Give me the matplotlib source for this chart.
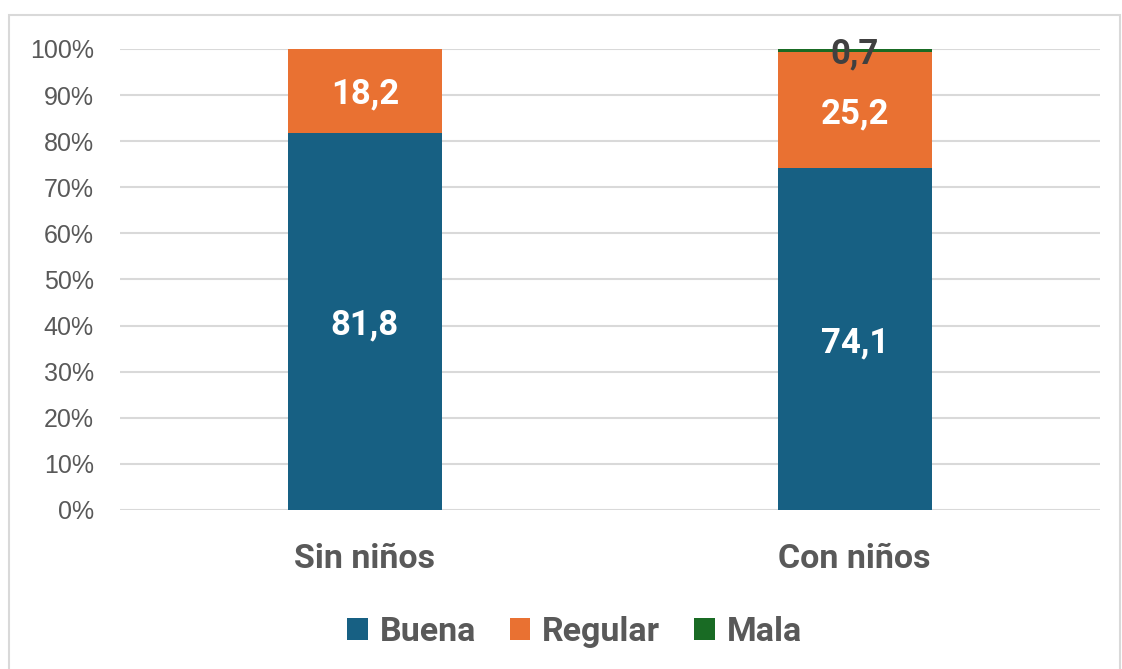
import numpy as np
import matplotlib.pyplot as plt
from matplotlib.patches import Rectangle

categories = ['Sin niños', 'Con niños']
buena = [81.8, 74.1]
regular = [18.2, 25.2]
mala = [0.0, 0.7]
series_names = ['Buena', 'Regular', 'Mala']
colors = ['#176083', '#e97132', '#196b24']
yticks = [0, 10, 20, 30, 40, 50, 60, 70, 80, 90, 100]

fig = plt.figure(figsize=(11.22, 6.69), dpi=100)
ax = fig.add_axes([0.107, 0.2377, 0.873, 0.6891])

# chart border
fig.patches.append(Rectangle((9 / 1122, -0.01), 1111 / 1122, 1 - 15 / 669 + 0.01,
                             transform=fig.transFigure, fill=False,
                             edgecolor='#d9d9d9', linewidth=1.5))

x = np.arange(len(categories))
w = 0.314
ax.bar(x, buena, w, color=colors[0], label=series_names[0], zorder=3)
ax.bar(x, regular, w, bottom=buena, color=colors[1], label=series_names[1], zorder=3)
bottom3 = np.array(buena) + np.array(regular)
ax.bar(x, mala, w, bottom=bottom3, color=colors[2], label=series_names[2], zorder=3)

lab = dict(family='Roboto', weight='bold', fontsize=25, ha='center', va='center_baseline', zorder=4)
for i in range(len(categories)):
    ax.text(x[i], buena[i] / 2, f'{buena[i]:.1f}'.replace('.', ','), color='white', **lab)
    ax.text(x[i], buena[i] + regular[i] / 2, f'{regular[i]:.1f}'.replace('.', ','), color='white', **lab)
    if mala[i] > 0:
        ax.text(x[i], bottom3[i] + mala[i] / 2, f'{mala[i]:.1f}'.replace('.', ','), color='#404040', **lab)

ax.set_xlim(-0.5, 1.5)
ax.set_ylim(0, 100)
ax.set_yticks(yticks)
ax.set_yticklabels([f'{t}%' for t in yticks], family='Liberation Sans', fontsize=18, color='#595959')
ax.set_xticks(x)
ax.set_xticklabels(categories, family='Roboto', weight='bold', fontsize=24.5, color='#595959')
ax.tick_params(axis='both', length=0)
ax.tick_params(axis='x', pad=24)
ax.tick_params(axis='y', pad=19)
ax.grid(axis='y', color='#d9d9d9', linewidth=1.5, zorder=0)
for s in ax.spines.values():
    s.set_visible(False)

leg = ax.legend(loc='center', bbox_to_anchor=(0.464, -0.265), ncol=3, frameon=False,
                prop=dict(family='Roboto', weight='bold', size=24.5),
                handlelength=0.6, handleheight=0.6, handletextpad=0.35, columnspacing=1.0)
for t in leg.get_texts():
    t.set_color('#595959')

fig.savefig('out.png', dpi=100)
